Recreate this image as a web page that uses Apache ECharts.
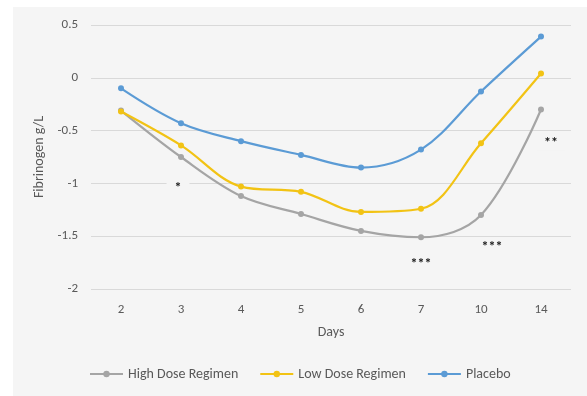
<!DOCTYPE html>
<html><head><meta charset="utf-8">
<script src="https://cdn.jsdelivr.net/npm/echarts@6/dist/echarts.min.js"></script>
<style>html,body{margin:0;padding:0;background:#fff}#c{width:587px;height:396px}</style>
</head><body><div id="c"></div>
<script>
const days = ['2','3','4','5','6','7','10','14'];
const highDose = [-0.31, -0.75, -1.12, -1.29, -1.45, -1.51, -1.30, -0.30];
const lowDose = [-0.32, -0.64, -1.03, -1.08, -1.27, -1.24, -0.62, 0.04];
const placebo = [-0.10, -0.43, -0.60, -0.73, -0.85, -0.68, -0.13, 0.39];
const yTicks = [-2, -1.5, -1, -0.5, 0, 0.5];
// significance annotations: [day, value, text]
const annotations = [['3', -1.05, '*'], ['7', -1.77, '***'], ['10', -1.61, '***'], ['14', -0.62, '**']];
const annotShift = [-3, 0, 11, 10];

const BG = '#f5f5f5';
const chart = echarts.init(document.getElementById('c'), null, {renderer: 'canvas'});
const font = 'Calibri, Carlito, "Open Sans", sans-serif';
function mk(name, data, color) {
  return {
    name, type: 'line', data, smooth: 0.35, symbol: 'circle', symbolSize: 6,
    lineStyle: {color, width: 2.2}, itemStyle: {color}, z: 3
  };
}
chart.setOption({
  animation: false,
  textStyle: {fontFamily: font},
  graphic: [{type: 'rect', shape: {x: 13, y: 7, width: 574, height: 389}, style: {fill: BG}, z: -10, silent: true}],
  grid: {left: 91, right: 16, top: 25, bottom: 107, containLabel: false},
  legend: {
    bottom: 10, left: 84, itemWidth: 33, itemHeight: 8, itemGap: 21,
    textStyle: {color: '#595959', fontSize: 14, fontFamily: font},
    data: ['High Dose Regimen', 'Low Dose Regimen', 'Placebo']
  },
  xAxis: {
    type: 'category', data: days, boundaryGap: true,
    name: 'Days', nameLocation: 'middle', nameGap: 36,
    nameTextStyle: {color: '#595959', fontSize: 14},
    axisLine: {show: false}, axisTick: {show: false},
    axisLabel: {color: '#595959', fontSize: 13, margin: 14}
  },
  yAxis: {
    type: 'value', min: -2, max: 0.5, interval: 0.5,
    name: 'Fibrinogen g/L', nameLocation: 'middle', nameGap: 44,
    nameTextStyle: {color: '#595959', fontSize: 14},
    axisLabel: {color: '#595959', fontSize: 13, margin: 13,
      formatter: v => yTicks.includes(v) ? String(v) : ''},
    splitLine: {lineStyle: {color: '#d9d9d9', width: 1}},
    axisLine: {show: false}, axisTick: {show: false}
  },
  series: [
    mk('High Dose Regimen', highDose, '#a5a5a5'),
    mk('Low Dose Regimen', lowDose, '#f2c314'),
    mk('Placebo', placebo, '#5b9bd5'),
    {
      name: 'annot', type: 'scatter', data: [], silent: true, z: 5,
      markPoint: {
        symbol: 'rect', symbolSize: 0,
        label: {show: true, color: '#1a1a1a', fontSize: 14, fontWeight: 'bold',
          backgroundColor: BG, padding: [0, 8, 0, 8], formatter: p => p.name},
        data: annotations.map((a, i) => ({name: a[2], coord: [a[0], a[1]], value: a[2],
          label: {offset: [annotShift[i], 0]}}))
      }
    }
  ]
});
</script></body></html>
